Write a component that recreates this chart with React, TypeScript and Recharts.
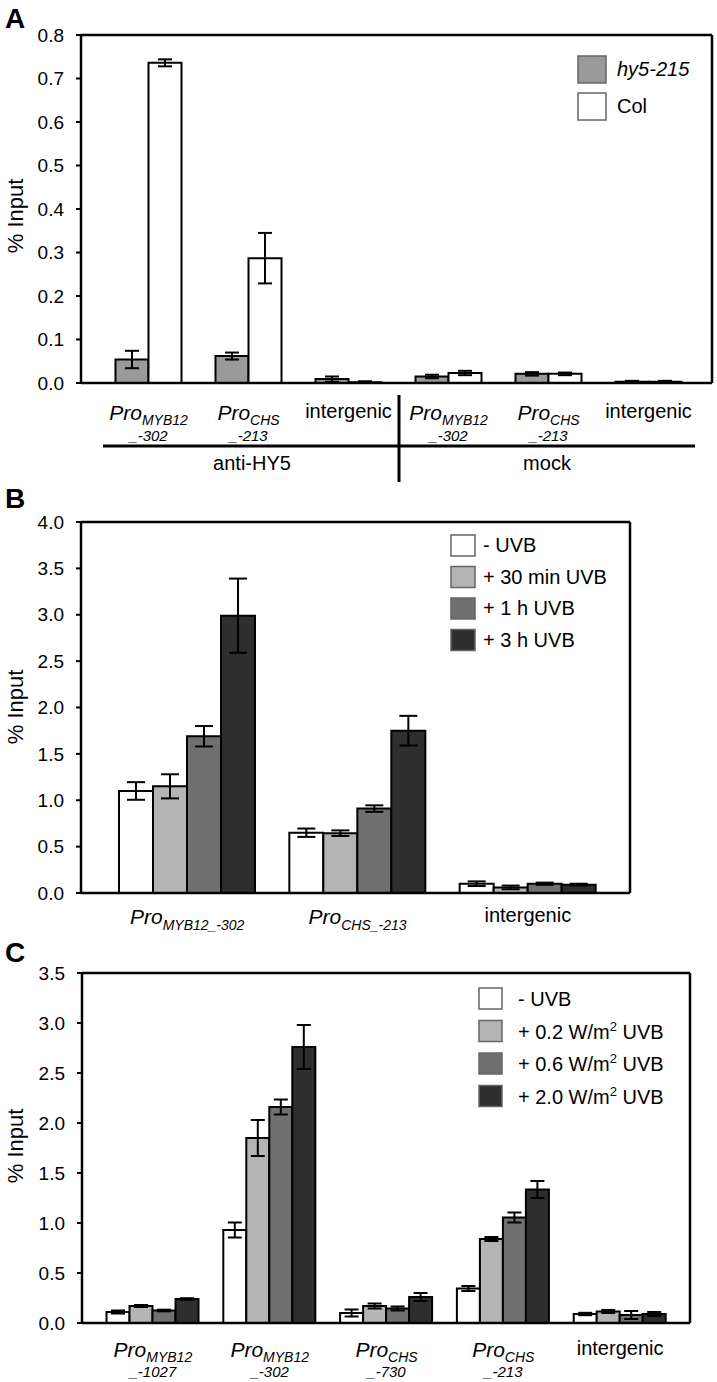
import React from 'react';
import { ComposedChart, Bar, Line, XAxis, YAxis, ErrorBar, ReferenceLine } from 'recharts';

const FONT = '"Liberation Sans", Arial, Helvetica, sans-serif';

// ---------------- Panel A ----------------
const aCategories = ['MYB12-302 anti', 'CHS-213 anti', 'intergenic anti', 'MYB12-302 mock', 'CHS-213 mock', 'intergenic mock'];
const aTickMain = ['Pro', 'Pro', 'intergenic', 'Pro', 'Pro', 'intergenic'];
const aTickSub = ['MYB12', 'CHS', '', 'MYB12', 'CHS', ''];
const aTickLine2 = ['_-302', '_-213', '', '_-302', '_-213', ''];
const aSeriesNames = ['hy5-215', 'Col'];
const aHy5 = [0.054, 0.062, 0.009, 0.015, 0.021, 0.003];
const aHy5Err = [0.02, 0.008, 0.006, 0.004, 0.004, 0.002];
const aCol = [0.736, 0.287, 0.002, 0.023, 0.021, 0.003];
const aColErr = [0.008, 0.058, 0.002, 0.005, 0.003, 0.002];
const aYTicks = [0, 0.1, 0.2, 0.3, 0.4, 0.5, 0.6, 0.7, 0.8];
const aGroups = ['anti-HY5', 'mock'];

// ---------------- Panel B ----------------
const bCategories = ['MYB12-302', 'CHS-213', 'intergenic'];
const bTickMain = ['Pro', 'Pro', 'intergenic'];
const bTickSub = ['MYB12_-302', 'CHS_-213', ''];
const bSeriesNames = ['- UVB', '+ 30 min UVB', '+ 1 h UVB', '+ 3 h UVB'];
const bNoUVB = [1.10, 0.65, 0.10];
const bNoUVBErr = [0.095, 0.045, 0.025];
const b30min = [1.15, 0.645, 0.06];
const b30minErr = [0.13, 0.03, 0.02];
const b1h = [1.69, 0.91, 0.10];
const b1hErr = [0.11, 0.035, 0.012];
const b3h = [2.99, 1.75, 0.09];
const b3hErr = [0.40, 0.16, 0.01];
const bYTicks = [0, 0.5, 1.0, 1.5, 2.0, 2.5, 3.0, 3.5, 4.0];

// ---------------- Panel C ----------------
const cCategories = ['MYB12-1027', 'MYB12-302', 'CHS-730', 'CHS-213', 'intergenic'];
const cTickMain = ['Pro', 'Pro', 'Pro', 'Pro', 'intergenic'];
const cTickSub = ['MYB12', 'MYB12', 'CHS', 'CHS', ''];
const cTickLine2 = ['_-1027', '_-302', '_-730', '_-213', ''];
const cSeriesNames = ['- UVB', '+ 0.2 W/m', '+ 0.6 W/m', '+ 2.0 W/m'];
const cNoUVB = [0.11, 0.93, 0.10, 0.345, 0.09];
const cNoUVBErr = [0.015, 0.075, 0.035, 0.025, 0.012];
const c02 = [0.17, 1.85, 0.17, 0.84, 0.115];
const c02Err = [0.01, 0.18, 0.025, 0.02, 0.015];
const c06 = [0.125, 2.16, 0.145, 1.055, 0.08];
const c06Err = [0.008, 0.075, 0.02, 0.05, 0.04];
const c20 = [0.24, 2.76, 0.26, 1.335, 0.09];
const c20Err = [0.008, 0.22, 0.04, 0.085, 0.02];
const cYTicks = [0, 0.5, 1.0, 1.5, 2.0, 2.5, 3.0, 3.5];

const fourColors = ['#ffffff', '#b4b4b4', '#707070', '#2e2e2e'];
const twoColors = ['#9a9a9a', '#ffffff'];

const aData = aCategories.map((c, i) => ({ cat: c, s0: aHy5[i], e0: aHy5Err[i], s1: aCol[i], e1: aColErr[i] }));
const bData = bCategories.map((c, i) => ({
  cat: c, s0: bNoUVB[i], e0: bNoUVBErr[i], s1: b30min[i], e1: b30minErr[i],
  s2: b1h[i], e2: b1hErr[i], s3: b3h[i], e3: b3hErr[i],
}));
const cData = cCategories.map((c, i) => ({
  cat: c, s0: cNoUVB[i], e0: cNoUVBErr[i], s1: c02[i], e1: c02Err[i],
  s2: c06[i], e2: c06Err[i], s3: c20[i], e3: c20Err[i],
}));

const fmt = (v: number) => v.toFixed(1);
const yTickStyle = { fontFamily: FONT, fontSize: 19, fill: '#000' };
const axisLine = { stroke: '#000', strokeWidth: 2.5 };

function makeTwoLineTick(cats: string[], main: string[], sub: string[], line2: string[], d1: number, dSub: number, d2: number) {
  return (props: any) => {
    const { x, y, payload } = props;
    const i = cats.indexOf(payload.value);
    if (i < 0) return <g />;
    if (!sub[i]) {
      return (
        <text x={x} y={y + d1 - 2} textAnchor="middle" fontFamily={FONT} fontSize={20} fill="#000">{main[i]}</text>
      );
    }
    return (
      <g>
        <text x={x} y={y + d1} textAnchor="middle" fontFamily={FONT} fontStyle="italic" fontSize={21} fill="#000">
          {main[i]}
          <tspan fontSize={14} dy={dSub}>{sub[i]}</tspan>
        </text>
        {line2[i] ? (
          <text x={x} y={y + d2} textAnchor="middle" fontFamily={FONT} fontStyle="italic" fontSize={15} fill="#000">{line2[i]}</text>
        ) : null}
      </g>
    );
  };
}

const aTick = makeTwoLineTick(aCategories, aTickMain, aTickSub, aTickLine2, 37, 5, 58);
const bTick = makeTwoLineTick(bCategories, bTickMain, bTickSub, ['', '', ''], 31, 6, 0);
const cTick = makeTwoLineTick(cCategories, cTickMain, cTickSub, cTickLine2, 34, 5, 54);

function frame(max: number) {
  return [
    <YAxis key="ry" yAxisId="r" orientation="right" width={1} domain={[0, max]} ticks={[0, max]} tick={false} tickLine={false} axisLine={axisLine} />,
    <Line key="rl" yAxisId="r" dataKey="s0" stroke="none" dot={false} activeDot={false} legendType="none" isAnimationActive={false} />,
    <ReferenceLine key="top" y={max} stroke="#000" strokeWidth={2.5} />,
  ];
}

export default function App() {
  const barStroke = { stroke: '#000', strokeWidth: 2 };
  const yTickLine = { stroke: '#000', strokeWidth: 2 };
  return (
    <div style={{ position: 'absolute', left: 0, top: 0, width: 717, height: 1382, background: '#fff', fontFamily: FONT }}>
      {/* Panel A */}
      <div style={{ position: 'absolute', left: 0, top: 0 }}>
        <ComposedChart width={717} height={480} data={aData} margin={{ top: 35, right: 4, bottom: 7, left: 0 }} barCategoryGap={17} barGap={0}>
          <XAxis dataKey="cat" interval={0} height={90} tickSize={0} tickMargin={0} tickLine={false} axisLine={axisLine} tick={aTick} padding={{ left: 17.5, right: 13.5 }} />
          <YAxis width={81} domain={[0, 0.8]} ticks={aYTicks} tickFormatter={fmt} tick={yTickStyle} tickSize={5} tickMargin={12} axisLine={axisLine} tickLine={yTickLine} interval={0} />
          {frame(0.8)}
          {[0, 1].map((k) => (
            <Bar key={k} dataKey={'s' + k} name={aSeriesNames[k]} fill={twoColors[k]} {...barStroke} isAnimationActive={false}>
              <ErrorBar dataKey={'e' + k} width={7} stroke="#000" strokeWidth={2} />
            </Bar>
          ))}
        </ComposedChart>
      </div>

      {/* Panel B */}
      <div style={{ position: 'absolute', left: 0, top: 480 }}>
        <ComposedChart width={717} height={460} data={bData} margin={{ top: 42, right: 86, bottom: 7, left: 0 }} barCategoryGap={17} barGap={0}>
          <XAxis dataKey="cat" interval={0} height={40} tickSize={0} tickMargin={0} tickLine={false} axisLine={axisLine} tick={bTick} padding={{ left: 21, right: 17 }} />
          <YAxis width={81} domain={[0, 4]} ticks={bYTicks} tickFormatter={fmt} tick={yTickStyle} tickSize={5} tickMargin={12} axisLine={axisLine} tickLine={yTickLine} interval={0} />
          {frame(4)}
          {[0, 1, 2, 3].map((k) => (
            <Bar key={k} dataKey={'s' + k} name={bSeriesNames[k]} fill={fourColors[k]} {...barStroke} isAnimationActive={false}>
              <ErrorBar dataKey={'e' + k} width={9} stroke="#000" strokeWidth={2} />
            </Bar>
          ))}
        </ComposedChart>
      </div>

      {/* Panel C */}
      <div style={{ position: 'absolute', left: 0, top: 930 }}>
        <ComposedChart width={717} height={452} data={cData} margin={{ top: 43, right: 26, bottom: 4, left: 0 }} barCategoryGap={12} barGap={0}>
          <XAxis dataKey="cat" interval={0} height={55} tickSize={0} tickMargin={0} tickLine={false} axisLine={axisLine} tick={cTick} padding={{ left: 12.5, right: 11.5 }} />
          <YAxis width={82} domain={[0, 3.5]} ticks={cYTicks} tickFormatter={fmt} tick={yTickStyle} tickSize={5} tickMargin={12} axisLine={axisLine} tickLine={yTickLine} interval={0} />
          {frame(3.5)}
          {[0, 1, 2, 3].map((k) => (
            <Bar key={k} dataKey={'s' + k} name={cSeriesNames[k]} fill={fourColors[k]} {...barStroke} isAnimationActive={false}>
              <ErrorBar dataKey={'e' + k} width={7} stroke="#000" strokeWidth={2} />
            </Bar>
          ))}
        </ComposedChart>
      </div>

      {/* Overlay: panel letters, axis titles, legends, group labels */}
      <svg width={717} height={1382} style={{ position: 'absolute', left: 0, top: 0, pointerEvents: 'none' }} fontFamily={FONT}>
        <text x={5} y={28} fontSize={28} fontWeight="bold">A</text>
        <text x={5} y={508} fontSize={28} fontWeight="bold">B</text>
        <text x={5} y={962} fontSize={28} fontWeight="bold">C</text>

        <text x={15} y={216} fontSize={22} textAnchor="middle" dominantBaseline="central" transform="rotate(-90 15 216)">% Input</text>
        <text x={15} y={707} fontSize={22} textAnchor="middle" dominantBaseline="central" transform="rotate(-90 15 707)">% Input</text>
        <text x={15} y={1146} fontSize={22} textAnchor="middle" dominantBaseline="central" transform="rotate(-90 15 1146)">% Input</text>

        {/* Legend A */}
        {aSeriesNames.map((n, i) => (
          <g key={n}>
            <rect x={578} y={56 + i * 37} width={28} height={27} fill={twoColors[i]} stroke="#666" strokeWidth={1.5} />
            <text x={617} y={75.5 + i * 37.5} fontSize={20} fontStyle={i === 0 ? 'italic' : 'normal'}>{n}</text>
          </g>
        ))}

        {/* Legend B */}
        {bSeriesNames.map((n, i) => (
          <g key={n}>
            <rect x={451} y={535 + i * 31.5} width={24} height={21} fill={fourColors[i]} stroke="#666" strokeWidth={1.5} />
            <text x={483} y={552 + i * 31.5} fontSize={20}>{n}</text>
          </g>
        ))}

        {/* Legend C */}
        {cSeriesNames.map((n, i) => (
          <g key={n}>
            <rect x={479} y={988 + i * 32.5} width={23} height={21} fill={fourColors[i]} stroke="#666" strokeWidth={1.5} />
            <text x={518} y={1006 + i * 32.5} fontSize={20}>
              {n}
              {i > 0 ? (
                <>
                  <tspan fontSize={13} dy={-8}>2</tspan>
                  <tspan dy={8}> UVB</tspan>
                </>
              ) : null}
            </text>
          </g>
        ))}

        {/* Group labels panel A */}
        <line x1={103} y1={446} x2={695} y2={446} stroke="#000" strokeWidth={3} />
        <line x1={399} y1={395} x2={399} y2={482} stroke="#000" strokeWidth={3} />
        <text x={252} y={470} fontSize={20} textAnchor="middle">{aGroups[0]}</text>
        <text x={547} y={470} fontSize={20} textAnchor="middle">{aGroups[1]}</text>
      </svg>
    </div>
  );
}
